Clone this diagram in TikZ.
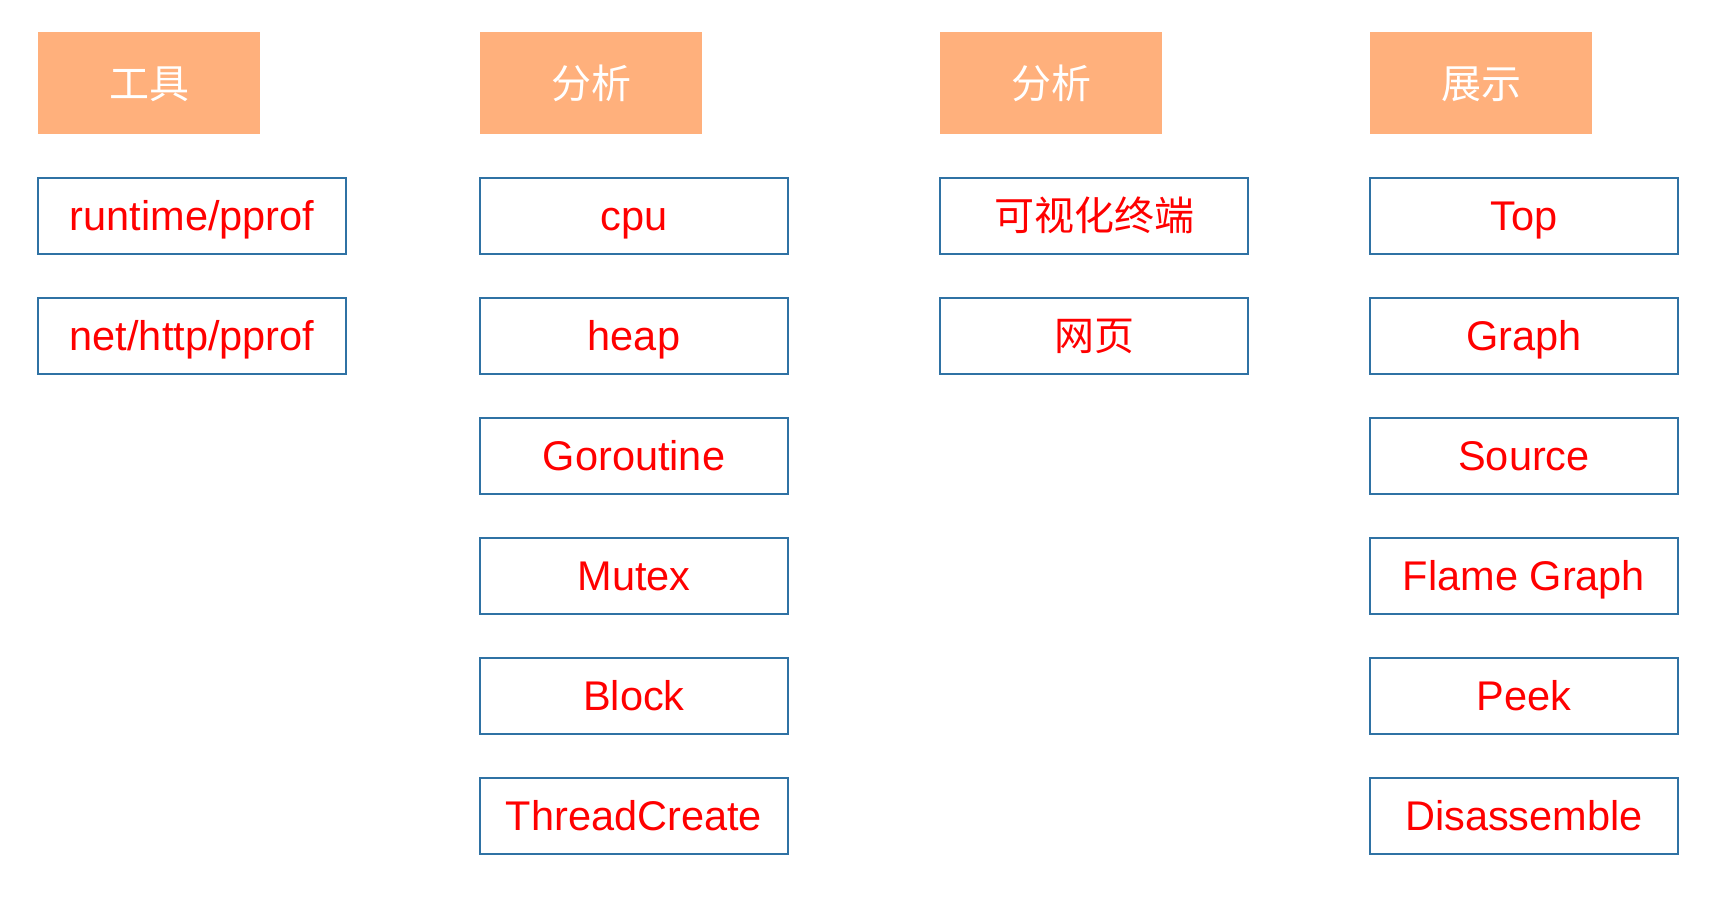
\documentclass[tikz,border=0pt]{standalone}
\usepackage{fontspec}
\setmainfont{Liberation Sans}
\newfontfamily\cjk{Noto Sans CJK SC}
\usepackage{tikz}
\usetikzlibrary{positioning}
\definecolor{headfill}{RGB}{255,176,124}
\definecolor{boxline}{RGB}{47,114,164}
\tikzstyle{head}=[fill=headfill, text=white, inner sep=0pt, outer sep=0pt, minimum width=222pt, minimum height=102pt, text height=34pt, text depth=4pt, font=\cjk\fontsize{40}{48}\selectfont]
\tikzstyle{item}=[draw=boxline, line width=2.2pt, text=red, inner sep=0pt, outer sep=0pt, minimum width=308pt, minimum height=76pt, text height=36pt, text depth=8pt, font=\fontsize{41.5}{50}\selectfont]
\tikzstyle{citem}=[item, font=\cjk\fontsize{40}{48}\selectfont]

\begin{document}
\begin{tikzpicture}[x=1pt, y=1pt, node distance=44pt]
        \useasboundingbox (0, 0) rectangle (1728, -902);
        % headers
        \node[head, anchor=north west] (tool) at (38, -32) {工具};
        \node[head, anchor=north west] (prof) at (480, -32) {分析};
        \node[head, anchor=north west] (view) at (940, -32) {分析};
        \node[head, anchor=north west] (show) at (1370, -32) {展示};
        % tools
        \node[item, below=44pt of tool.south west, anchor=north west] (runtime) {runtime/pprof};
        \node[item, below=of runtime] (nethttp) {net/http/pprof};
        % profiles
        \node[item, below=44pt of prof.south west, anchor=north west] (cpu) {cpu};
        \node[item, below=of cpu] (heap) {heap};
        \node[item, below=of heap] (gor) {Goroutine};
        \node[item, below=of gor] (mutex) {Mutex};
        \node[item, below=of mutex] (block) {Block};
        \node[item, below=of block] (thread) {ThreadCreate};
        % views
        \node[citem, below=44pt of view.south west, anchor=north west] (term) {可视化终端};
        \node[citem, below=of term] (web) {网页};
        % display modes
        \node[item, below=44pt of show.south west, anchor=north west] (top) {Top};
        \node[item, below=of top] (graph) {Graph};
        \node[item, below=of graph] (source) {Source};
        \node[item, below=of source] (flame) {Flame Graph};
        \node[item, below=of flame] (peek) {Peek};
        \node[item, below=of peek] (disasm) {Disassemble};
    \end{tikzpicture}
\end{document}
